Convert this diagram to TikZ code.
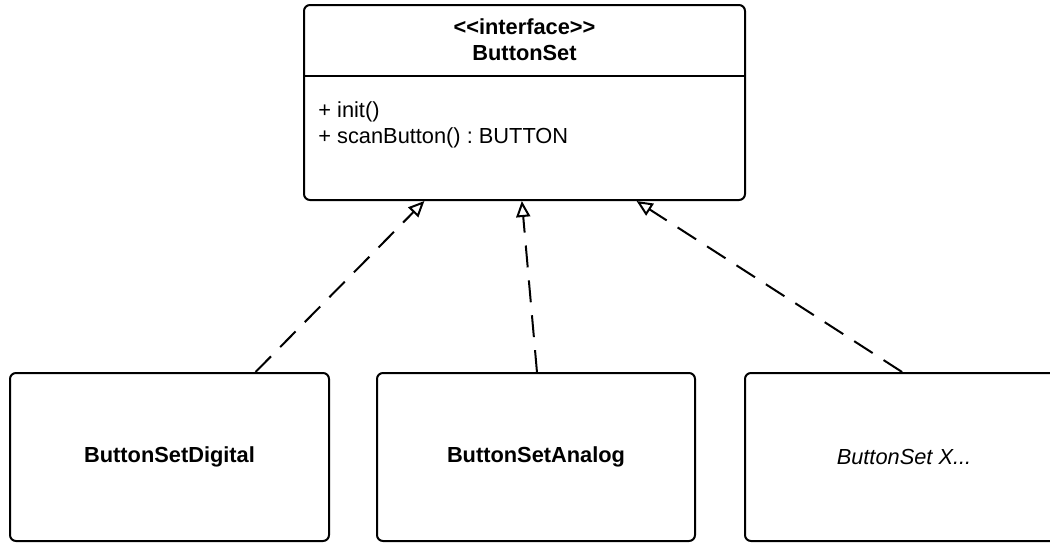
\documentclass[tikz,border=0pt]{standalone}
\usepackage{fontspec}
\setmainfont{Liberation Sans}
\usetikzlibrary{arrows.meta}
\usetikzlibrary{calc}

\tikzset{
  umlfont/.style={font=\fontsize{10.9pt}{13pt}\selectfont\frenchspacing},
  classbox/.style={draw,line width=1pt,rounded corners=3pt,umlfont,
    minimum width=159.5pt,minimum height=84pt},
  realizes/.style={line width=1pt,dash pattern=on 11pt off 6.5pt,
    -{Triangle[open,length=8pt,width=7pt,line width=1pt]}},
}

\begin{document}
\begin{tikzpicture}[x=0.5pt,y=-0.5pt]
\useasboundingbox (0,0) rectangle (1050,543);
\clip (0,0) rectangle (1050,543);

% interface with its two compartments
\node[draw,line width=1pt,rounded corners=3pt,minimum width=220.5pt,minimum height=97.5pt] (iface) at (524.5,102.5) {};
\draw[line width=1pt] ($(iface.north west)+(0,72)$) -- ($(iface.north east)+(0,72)$);
\node[umlfont,font=\fontsize{10.9pt}{13pt}\selectfont\bfseries,align=center,inner sep=0pt] (stereo) at (524.5,40) {<\kern0pt<interface>\kern0pt>\\ButtonSet};
\node[umlfont,align=left,inner sep=0pt,anchor=north west] (ops) at (318,101) {+ init()\\+ scanButton() : BUTTON};

% implementations
\node[classbox,font=\fontsize{10.9pt}{13pt}\selectfont\bfseries] (digital) at (169.5,457) {ButtonSetDigital};
\node[classbox,font=\fontsize{10.9pt}{13pt}\selectfont\bfseries,minimum width=159pt] (analog) at (536,457) {ButtonSetAnalog};
\node[classbox,font=\fontsize{10.9pt}{13pt}\selectfont\itshape,minimum width=159pt] (other) at (904,457) {ButtonSet X...};

\draw[realizes] ($(digital.north west)!0.768!(digital.north east)$) -- ($(iface.south west)!0.274!(iface.south east)$);
\draw[realizes] ($(analog.north west)!0.503!(analog.north east)$) -- ($(iface.south west)!0.494!(iface.south east)$);
\draw[realizes] ($(other.north west)!0.494!(other.north east)$) -- ($(iface.south west)!0.753!(iface.south east)$);

\end{tikzpicture}
\end{document}
